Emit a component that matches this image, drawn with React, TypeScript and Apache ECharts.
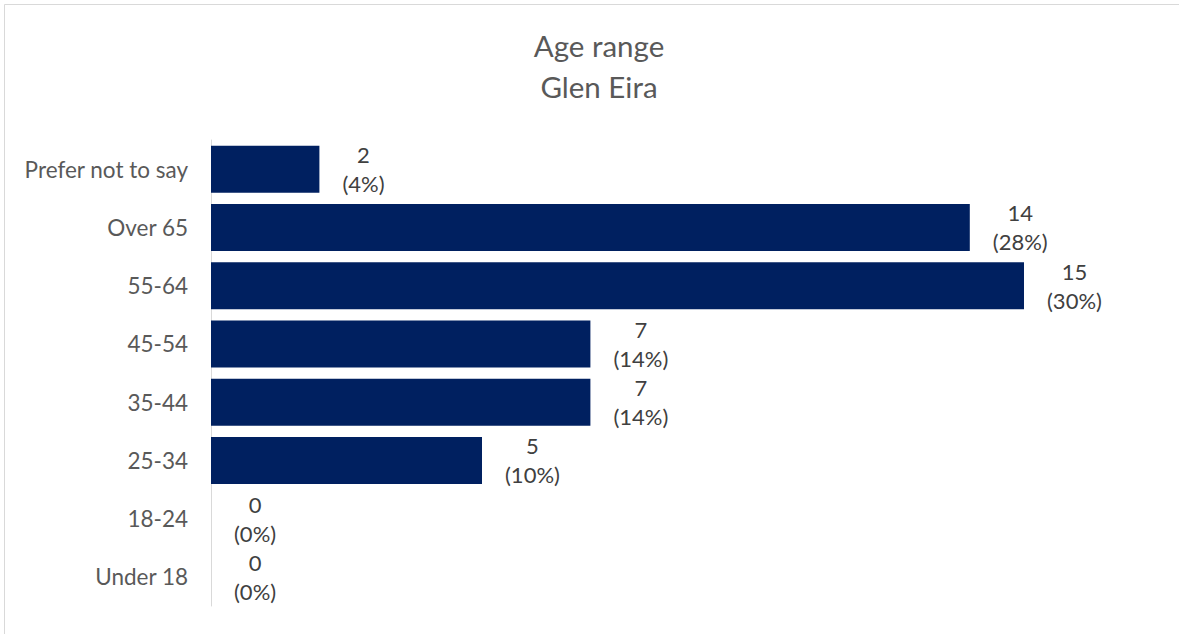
import React, { useEffect, useRef } from "react";
import * as echarts from "echarts";

const categories = ["Under 18", "18-24", "25-34", "35-44", "45-54", "55-64", "Over 65", "Prefer not to say"];
const counts = [0, 0, 5, 7, 7, 15, 14, 2];
const percents = ["0%", "0%", "10%", "14%", "14%", "30%", "28%", "4%"];

const FONT = "Lato, 'Open Sans', sans-serif";

export default function App() {
  const ref = useRef<HTMLDivElement>(null);
  useEffect(() => {
    if (!ref.current) return;
    const chart = echarts.init(ref.current, undefined, { renderer: "svg" });
    chart.setOption({
      animation: false,
      backgroundColor: "#ffffff",
      title: {
        text: "Age range\nGlen Eira",
        left: 594,
        textAlign: "center",
        top: 20,
        textStyle: {
          fontFamily: FONT,
          fontSize: 29.5,
          fontWeight: "normal",
          color: "#595959",
          lineHeight: 41,
        },
      },
      graphic: [
        {
          type: "rect",
          shape: { x: 4.5, y: 4.5, width: 1400, height: 800 },
          style: { fill: "none", stroke: "#d9d9d9", lineWidth: 1 },
          silent: true,
        },
      ],
      grid: { left: 211, right: 155, top: 140, bottom: 28, containLabel: false },
      xAxis: {
        type: "value",
        min: 0,
        max: 15,
        show: false,
      },
      yAxis: {
        type: "category",
        data: categories,
        axisLine: { show: true, lineStyle: { color: "#d9d9d9", width: 1 } },
        axisTick: { show: false },
        axisLabel: {
          fontFamily: FONT,
          fontSize: 22.5,
          color: "#595959",
          margin: 23,
        },
      },
      series: [
        {
          type: "bar",
          data: counts,
          barWidth: 47,
          itemStyle: { color: "#002060" },
          label: {
            show: true,
            position: "right",
            distance: 23,
            formatter: (p: any) => `{a|${counts[p.dataIndex]}}\n{a|(${percents[p.dataIndex]})}`,
            rich: {
              a: {
                fontFamily: FONT,
                fontSize: 22,
                color: "#404040",
                lineHeight: 29,
                align: "center",
              },
            },
          },
        },
      ],
    });
    return () => chart.dispose();
  }, []);
  return (
    <div
      ref={ref}
      style={{ position: "absolute", left: 0, top: 0, width: 1179, height: 634 }}
    />
  );
}
